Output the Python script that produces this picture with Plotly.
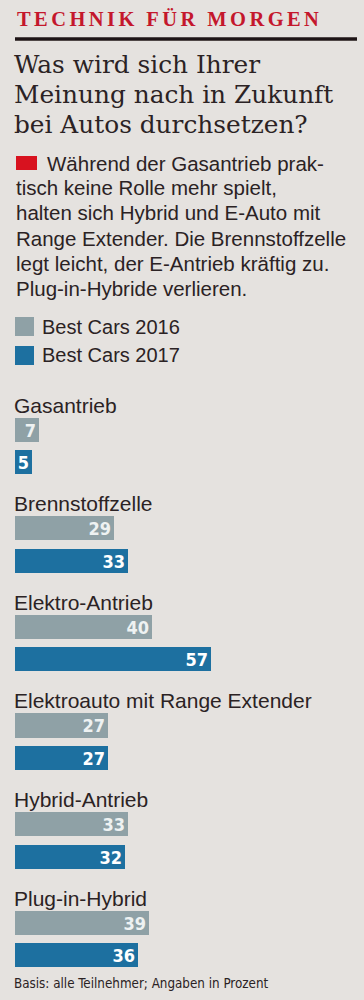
import plotly.graph_objects as go

# ---------------- data ----------------
categories = ["Gasantrieb", "Brennstoffzelle", "Elektro-Antrieb",
              "Elektroauto mit Range Extender", "Hybrid-Antrieb", "Plug-in-Hybrid"]
series_names = ["Best Cars 2016", "Best Cars 2017"]
values_2016 = [7, 29, 40, 27, 33, 39]
values_2017 = [5, 33, 57, 27, 32, 36]

kicker = "TECHNIK FÜR MORGEN"
headline = ["Was wird sich Ihrer", "Meinung nach in Zukunft", "bei Autos durchsetzen?"]
intro = ["Während der Gasantrieb prak-", "tisch keine Rolle mehr spielt,",
         "halten sich Hybrid und E-Auto mit", "Range Extender. Die Brennstoffzelle",
         "legt leicht, der E-Antrieb kräftig zu.", "Plug-in-Hybride verlieren."]
footnote = "Basis: alle Teilnehmer; Angaben in Prozent"

# ---------------- style ----------------
W, H = 364, 1000
BG = "#e5e2df"
C16 = "#8fa1a6"
C17 = "#1d70a0"
RED = "#c4172c"
INK = "#2b2224"
SANS = "Liberation Sans, Arial, sans-serif"
COND = "DejaVu Sans Condensed, Liberation Sans Narrow, Liberation Sans, sans-serif"
SERIF = "DejaVu Serif, Liberation Serif, serif"

PITCH = 98.6          # px per category group
TOP = 405             # px of first category label centre
OFF1, OFF2 = 0.25, 0.58
BAR_W = 0.245
X0 = 15               # px where bars start
SCALE = 3.43          # px per percent


def py(pix):
    return 1 - pix / H


def px(pix):
    return pix / W


n = len(categories)
y_lab = list(range(n))
y16 = [g + OFF1 for g in y_lab]
y17 = [g + OFF2 for g in y_lab]

fig = go.Figure()
fig.add_trace(go.Bar(
    x=values_2016, y=y16, orientation="h", width=BAR_W, name=series_names[0],
    marker=dict(color=C16, line=dict(width=0)),
    text=[str(v) for v in values_2016], textposition="inside", insidetextanchor="end",
    textangle=0, textfont=dict(family=COND, size=18, color="#eef2f2", weight="bold"),
    constraintext="none", cliponaxis=False, showlegend=False))
fig.add_trace(go.Bar(
    x=values_2017, y=y17, orientation="h", width=BAR_W, name=series_names[1],
    marker=dict(color=C17, line=dict(width=0)),
    text=[str(v) for v in values_2017], textposition="inside", insidetextanchor="end",
    textangle=0, textfont=dict(family=COND, size=18, color="#ffffff", weight="bold"),
    constraintext="none", cliponaxis=False, showlegend=False))

ann = []
# kicker
ann.append(dict(x=px(15), y=py(19), xref="paper", yref="paper", xanchor="left", yanchor="middle",
                text="\u200a\u200a".join(list(kicker)), showarrow=False,
                font=dict(family="Liberation Serif, serif", size=20.5, color=RED, weight="bold")))
# headline
for i, line in enumerate(headline):
    ann.append(dict(x=px(12), y=py(65 + i * 29.5), xref="paper", yref="paper", xanchor="left",
                    yanchor="middle", text=line, showarrow=False,
                    font=dict(family=SERIF, size=24.8, color=INK)))
# intro text
for i, line in enumerate(intro):
    ann.append(dict(x=px(45 if i == 0 else 14), y=py(163 + i * 25), xref="paper", yref="paper",
                    xanchor="left", yanchor="middle", text=line, showarrow=False,
                    font=dict(family=SANS, size=20.5, color=INK)))
# legend labels
for i, name in enumerate(series_names):
    ann.append(dict(x=px(40), y=py(327 + i * 28.5), xref="paper", yref="paper", xanchor="left",
                    yanchor="middle", text=name, showarrow=False,
                    font=dict(family=SANS, size=20, color=INK)))
# category labels
for g, cat in zip(y_lab, categories):
    ann.append(dict(x=px(12), y=g, xref="paper", yref="y", xanchor="left", yanchor="middle",
                    text=cat, showarrow=False, font=dict(family=SANS, size=21, color=INK)))
# footnote
ann.append(dict(x=px(12), y=py(983), xref="paper", yref="paper", xanchor="left", yanchor="middle",
                text=footnote, showarrow=False, font=dict(family=COND, size=13.3, color=INK)))

shapes = [
    dict(type="line", xref="paper", yref="paper", x0=px(15), x1=px(357), y0=py(39), y1=py(39),
         line=dict(color="#1e1416", width=3.5)),
    dict(type="rect", xref="paper", yref="paper", x0=px(16), x1=px(37), y0=py(170), y1=py(156),
         fillcolor="#d8121f", line=dict(width=0)),
    dict(type="rect", xref="paper", yref="paper", x0=px(15), x1=px(34), y0=py(336), y1=py(317),
         fillcolor=C16, line=dict(width=0)),
    dict(type="rect", xref="paper", yref="paper", x0=px(15), x1=px(34), y0=py(365), y1=py(346),
         fillcolor=C17, line=dict(width=0)),
]

fig.update_layout(
    width=W, height=H, margin=dict(l=0, r=0, t=0, b=0),
    paper_bgcolor=BG, plot_bgcolor=BG,
    xaxis=dict(range=[-X0 / SCALE, (W - X0) / SCALE], visible=False, fixedrange=True),
    yaxis=dict(range=[(H - TOP) / PITCH, -TOP / PITCH], visible=False, fixedrange=True),
    bargap=0, annotations=ann, shapes=shapes, showlegend=False,
)

fig.write_html("out.html", config={"displayModeBar": False},
               post_script="document.body.style.margin='0';document.body.style.background='%s';" % BG)
